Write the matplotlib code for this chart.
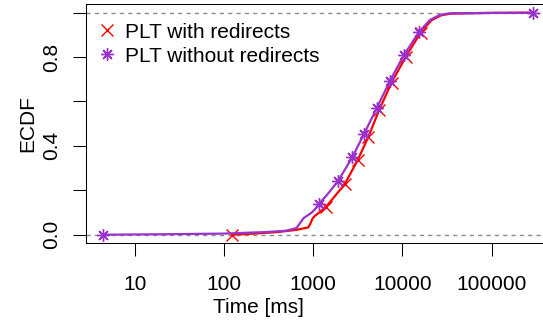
import matplotlib
matplotlib.use('Agg')
import matplotlib.pyplot as plt
from matplotlib.lines import Line2D
import numpy as np

# ECDF curves (time in ms, cumulative fraction)
with_x = [122, 200, 400, 652, 879, 930, 980, 1045, 1150, 1387, 1800, 2264, 3140,
          4128, 5485, 7550, 10910, 15960, 21000, 27000, 35000, 100000, 280000]
with_y = [0.0, 0.004, 0.012, 0.022, 0.033, 0.05, 0.072, 0.085, 0.098, 0.125, 0.18,
          0.229, 0.335, 0.439, 0.562, 0.685, 0.802, 0.910, 0.965, 0.988, 0.996, 0.999, 1.0]
without_x = [4.4, 20, 100, 300, 500, 650, 720, 780, 850, 950, 1050, 1158, 1500, 1905,
             2735, 3700, 5130, 7230, 10370, 15390, 20300, 26200, 34000, 95000, 291000]
without_y = [0.0, 0.002, 0.005, 0.012, 0.018, 0.03, 0.055, 0.075, 0.085, 0.098, 0.115,
             0.138, 0.19, 0.243, 0.348, 0.453, 0.569, 0.692, 0.809, 0.914, 0.967, 0.99,
             0.997, 0.999, 1.0]

# marker positions along each curve
with_mx = [122, 1387, 2264, 3140, 4128, 5485, 7550, 10910, 15960]
with_my = [0.0, 0.123, 0.229, 0.335, 0.439, 0.562, 0.685, 0.802, 0.910]
without_mx = [4.4, 1158, 1905, 2735, 3700, 5130, 7230, 10370, 15390, 291000]
without_my = [0.0, 0.138, 0.243, 0.348, 0.453, 0.569, 0.692, 0.809, 0.914, 1.0]

xticks = [10, 100, 1000, 10000, 100000]
xlabels = ['10', '100', '1000', '10000', '100000']
yticks = [0.0, 0.2, 0.4, 0.6, 0.8, 1.0]
ylabels = ['0.0', '', '0.4', '', '0.8', '']

RED = '#FF0000'
PURPLE = '#9932CC'
FS = 15

plt.rcParams['font.family'] = ['Liberation Sans', 'DejaVu Sans']

fig = plt.figure(figsize=(5.43, 3.22), dpi=100)
ax = fig.add_axes([86 / 543, 1 - 242.7 / 322, 1 - 86 / 543, (242.7 - 3.5) / 322])

ax.axhline(0, color='#8a8a8a', lw=1.0, ls=(0, (3, 3)), zorder=1)
ax.axhline(1, color='#8a8a8a', lw=1.0, ls=(0, (3, 3)), zorder=1)

ax.plot(with_x, with_y, color=RED, lw=1.6, zorder=2)
ax.plot(with_mx, with_my, ls='none', marker='x', ms=8, mew=1.0, color=RED, zorder=3)
ax.plot(without_x, without_y, color=PURPLE, lw=1.6, zorder=4)
ax.plot(without_mx, without_my, ls='none', marker=(8, 2, 0), ms=9, mew=1.0,
        color=PURPLE, zorder=5)

ax.set_xscale('log')
ax.set_xlim(10 ** 0.4534, 10 ** 5.575)
ax.set_ylim(-0.036, 1.0414)
ax.set_xticks(xticks)
ax.set_xticklabels(xlabels, fontsize=FS)
ax.xaxis.set_minor_locator(matplotlib.ticker.NullLocator())
ax.set_yticks(yticks)
ax.set_yticklabels(ylabels, fontsize=FS, rotation=90, va='center')
ax.tick_params(axis='x', length=9.4, width=0.75, pad=13.7, color='black')
ax.tick_params(axis='y', length=9.4, width=0.75, pad=8.3, color='black')

for side in ['left', 'top', 'bottom']:
    ax.spines[side].set_linewidth(0.75)
ax.spines['right'].set_visible(False)

fig.text(258.5 / 543, 1 - 313.3 / 322, 'Time [ms]', fontsize=FS, ha='center', va='baseline')
fig.text(33 / 543, 1 - 123.3 / 322, 'ECDF', fontsize=FS, rotation=90,
         rotation_mode='anchor', ha='center', va='baseline')

handles = [Line2D([], [], ls='none', marker='x', ms=8, mew=1.0, color=RED),
           Line2D([], [], ls='none', marker=(8, 2, 0), ms=9, mew=1.0, color=PURPLE)]
ax.legend(handles, ['PLT with redirects', 'PLT without redirects'], loc='upper left',
          bbox_to_anchor=(98.4 / 543, 1 - 22.5 / 322), bbox_transform=fig.transFigure,
          frameon=False, fontsize=FS, handlelength=0.8, handletextpad=0.48,
          labelspacing=0.25, borderpad=0, borderaxespad=0)

fig.savefig('out.png', dpi=100)
